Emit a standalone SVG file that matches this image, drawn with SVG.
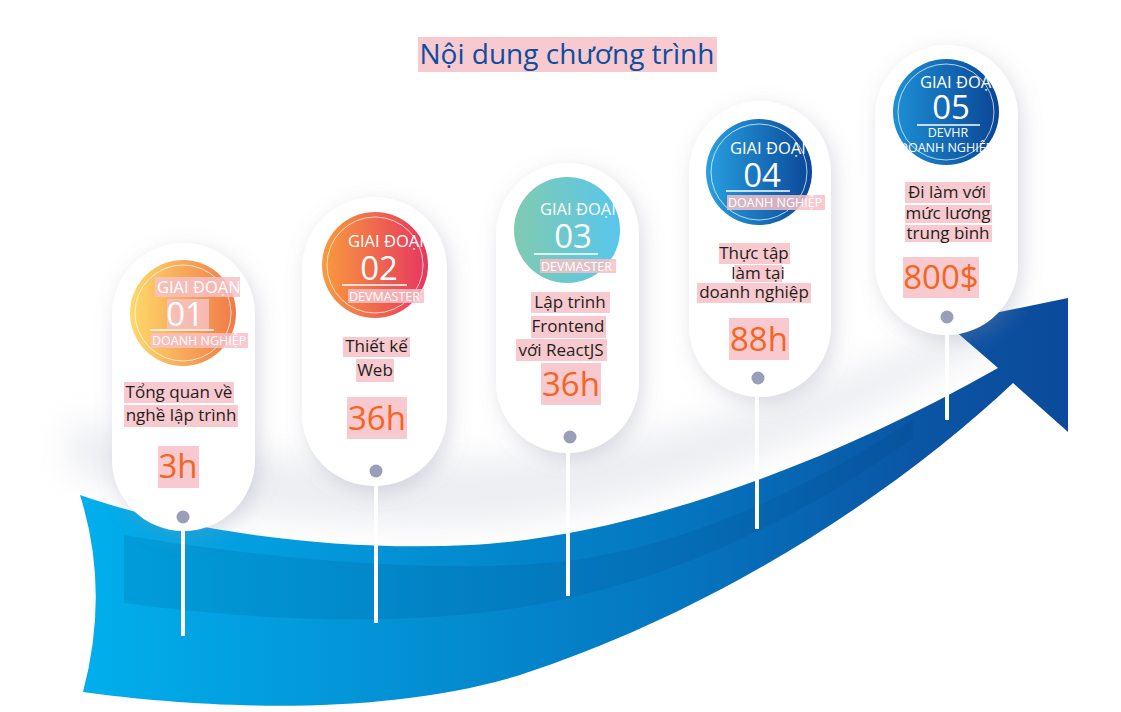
<svg xmlns="http://www.w3.org/2000/svg" width="1121" height="712" viewBox="0 0 1121 712">
<defs>
<style>
text{font-family:"Open Sans","Noto Sans","DejaVu Sans",sans-serif}
.pill{fill:#fff;filter:url(#sh)}
.hl{fill:#f7bfc5;fill-opacity:.85}
.body{font-size:17px;fill:#231f20;text-anchor:middle}
.hrs{font-size:33px;fill:#f26522;text-anchor:middle}
.giai{font-size:16.5px;fill:#fff}
.num{font-size:33px;fill:#fff;text-anchor:middle}
.sub{font-size:12.5px;fill:#fff}
.ring{fill:none;stroke:#fff;stroke-opacity:.7;stroke-width:1}
.uline{stroke:#fff;stroke-width:1.3}
.dot{fill:#9a9fb9}
.conn{stroke:#fff;stroke-width:4;fill:none}
</style>
<filter id="sh" x="-40%" y="-20%" width="180%" height="140%">
<feDropShadow dx="4" dy="6" stdDeviation="10" flood-color="#8a90a8" flood-opacity="0.3"/>
</filter>
<filter id="blur" x="-20%" y="-50%" width="140%" height="200%"><feGaussianBlur stdDeviation="16"/></filter>
<linearGradient id="band" x1="80" y1="0" x2="1068" y2="0" gradientUnits="userSpaceOnUse">
<stop offset="0" stop-color="#01afec"/>
<stop offset="0.3" stop-color="#0393d6"/>
<stop offset="0.62" stop-color="#0574be"/>
<stop offset="0.85" stop-color="#0a55a4"/>
<stop offset="1" stop-color="#0c4a9b"/>
</linearGradient>
<linearGradient id="g1" x1="0" y1="0" x2="1" y2="0"><stop offset="0" stop-color="#fed96a"/><stop offset="1" stop-color="#f07a48"/></linearGradient>
<linearGradient id="g2" x1="0" y1="0" x2="1" y2="0"><stop offset="0" stop-color="#f89b3d"/><stop offset="1" stop-color="#e6375f"/></linearGradient>
<linearGradient id="g3" x1="0" y1="0" x2="1" y2="0"><stop offset="0" stop-color="#80cbb0"/><stop offset="1" stop-color="#58c6ec"/></linearGradient>
<linearGradient id="g4" x1="0" y1="0" x2="1" y2="0"><stop offset="0" stop-color="#28a0e0"/><stop offset="1" stop-color="#0a4798"/></linearGradient>
<linearGradient id="g5" x1="0" y1="0" x2="1" y2="0"><stop offset="0" stop-color="#1d90d6"/><stop offset="1" stop-color="#0a4595"/></linearGradient>
<clipPath id="c1"><rect x="140" y="250" width="110" height="110"/></clipPath>
<clipPath id="c2"><rect x="322" y="225" width="103" height="30"/></clipPath>
<clipPath id="c3"><rect x="513" y="192" width="105" height="30"/></clipPath>
<clipPath id="c4"><rect x="706" y="132" width="102" height="30"/></clipPath>
<clipPath id="c5"><rect x="893" y="66" width="100" height="30"/></clipPath>
<clipPath id="c5b"><rect x="904" y="139" width="87" height="18"/></clipPath>
</defs>
<rect width="1121" height="712" fill="#fff"/>

<g id="title">
<rect class="hl" x="418" y="37" width="299" height="35"/>
<text x="567" y="64" font-size="28" fill="#0b4ea2" text-anchor="middle">Nội dung chương trình</text>
</g>

<g id="arrow">
<path d="M70,470 C200,515 330,530 470,525 S800,455 1000,340 L1010,300 C800,410 600,455 470,460 C300,465 180,450 70,420 Z" fill="#c4c8d4" opacity="0.3" filter="url(#blur)"/>
<path d="M80,495 C180,530 330,552 470,545 S800,480 998,368 L946,323 L1068,298 L1068,432 L1013,383 C900,490 720,610 520,675 C380,718 200,708 83,692 Q110,590 80,495 Z" fill="url(#band)"/>
<path d="M124,535 C250,556 420,575 560,562 C700,545 820,480 913,420 L913,438 C820,505 700,570 560,600 C420,630 250,620 124,603 Z" fill="#003a70" fill-opacity="0.12"/>
</g>

<g id="stage-1">
<rect class="pill" x="112" y="243" width="143" height="288" rx="71.5"/>
<circle cx="183" cy="313" r="53" fill="url(#g1)"/>
<circle class="ring" cx="183" cy="313" r="48"/>
<g clip-path="url(#c1)">
<rect class="hl" x="155" y="277" width="85" height="20"/>
<rect class="hl" x="167" y="299" width="42" height="30"/>
<rect class="hl" x="151" y="333" width="97" height="15"/>
<text class="giai" x="157" y="293" font-size="16">GIAI ĐOẠN</text>
<text class="num" x="185" y="326">01</text>
<line class="uline" x1="150" y1="330" x2="214" y2="330"/>
<text class="sub" x="152" y="345">DOANH NGHIỆP</text>
</g>
<rect class="hl" x="124" y="382" width="110" height="21"/>
<rect class="hl" x="124" y="405" width="114" height="22"/>
<text class="body" x="179" y="398">Tổng quan về</text>
<text class="body" x="181" y="421">nghề lập trình</text>
<rect class="hl" x="158" y="446" width="41" height="42"/>
<text class="hrs" x="178" y="478">3h</text>
<circle class="dot" cx="183" cy="517" r="6.5"/>
</g>

<g id="stage-2">
<rect class="pill" x="302" y="197" width="145" height="289" rx="72"/>
<circle cx="375" cy="265" r="53" fill="url(#g2)"/>
<circle class="ring" cx="375" cy="265" r="48"/>
<text class="giai" x="348" y="247" clip-path="url(#c2)">GIAI ĐOẠN</text>
<text class="num" x="379" y="280">02</text>
<line class="uline" x1="342" y1="285" x2="407" y2="285"/>
<rect class="hl" x="348" y="289" width="76" height="14"/>
<text class="sub" x="349" y="301" font-size="13">DEVMASTER</text>
<rect class="hl" x="343" y="337" width="67" height="20"/>
<rect class="hl" x="356" y="359" width="38" height="23"/>
<text class="body" x="376.5" y="352">Thiết kế</text>
<text class="body" x="375" y="376">Web</text>
<rect class="hl" x="347" y="397" width="60" height="42"/>
<text class="hrs" x="377" y="430">36h</text>
<circle class="dot" cx="376" cy="471" r="6.5"/>
</g>

<g id="stage-3">
<rect class="pill" x="496" y="163" width="143" height="290" rx="71.5"/>
<circle cx="567" cy="230" r="53" fill="url(#g3)"/>
<text class="giai" x="540" y="215" clip-path="url(#c3)">GIAI ĐOẠN</text>
<text class="num" x="573" y="248">03</text>
<line class="uline" x1="534" y1="254" x2="598" y2="254"/>
<rect class="hl" x="540" y="259" width="76" height="14"/>
<text class="sub" x="541" y="271" font-size="13">DEVMASTER</text>
<rect class="hl" x="531" y="292" width="79" height="21"/>
<rect class="hl" x="531" y="316" width="75" height="22"/>
<rect class="hl" x="516" y="339" width="91" height="22"/>
<text class="body" x="570" y="308">Lập trình</text>
<text class="body" x="568" y="332">Frontend</text>
<text class="body" x="561" y="356">với ReactJS</text>
<rect class="hl" x="541" y="363" width="60" height="42"/>
<text class="hrs" x="571" y="396">36h</text>
<circle class="dot" cx="570" cy="437" r="6.5"/>
</g>

<g id="stage-4">
<rect class="pill" x="689" y="101" width="142" height="296" rx="71"/>
<circle cx="759" cy="172" r="53" fill="url(#g4)"/>
<circle class="ring" cx="759" cy="172" r="48"/>
<text class="giai" x="730" y="154" clip-path="url(#c4)">GIAI ĐOẠN</text>
<text class="num" x="762" y="187">04</text>
<line class="uline" x1="726" y1="191" x2="790" y2="191"/>
<rect class="hl" x="727" y="195" width="98" height="15"/>
<text class="sub" x="728" y="207">DOANH NGHIỆP</text>
<rect class="hl" x="719" y="243" width="71" height="21"/>
<rect class="hl" x="735" y="265" width="47" height="17"/>
<rect class="hl" x="697" y="283" width="114" height="20"/>
<text class="body" x="754" y="259">Thực tập</text>
<text class="body" x="758" y="279">làm tại</text>
<text class="body" x="754" y="298">doanh nghiệp</text>
<rect class="hl" x="729" y="318" width="60" height="42"/>
<text class="hrs" x="759" y="351">88h</text>
<circle class="dot" cx="758" cy="378" r="6.5"/>
</g>

<g id="stage-5">
<rect class="pill" x="875" y="45" width="143" height="290" rx="71.5"/>
<circle cx="946" cy="112" r="53" fill="url(#g5)"/>
<circle class="ring" cx="946" cy="112" r="48"/>
<text class="giai" x="920" y="88" clip-path="url(#c5)">GIAI ĐOẠN</text>
<text class="num" x="951" y="119">05</text>
<line class="uline" x1="917" y1="125" x2="980" y2="125"/>
<text class="sub" x="948" y="137" font-size="11.5" text-anchor="middle">DEVHR</text>
<text class="sub" x="946" y="152" text-anchor="middle" clip-path="url(#c5b)">DOANH NGHIỆP</text>
<rect class="hl" x="905" y="182" width="85" height="21"/>
<rect class="hl" x="905" y="205" width="87" height="18"/>
<rect class="hl" x="905" y="225" width="87" height="17"/>
<text class="body" x="947" y="198">Đi làm với</text>
<text class="body" x="948" y="219">mức lương</text>
<text class="body" x="948" y="239">trung bình</text>
<rect class="hl" x="903" y="257" width="76" height="41"/>
<text class="hrs" x="941" y="289">800$</text>
<circle class="dot" cx="947" cy="317" r="6.5"/>
</g>

<g id="connectors">
<line class="conn" x1="183" y1="524" x2="183" y2="636"/>
<line class="conn" x1="376" y1="478" x2="376" y2="623"/>
<line class="conn" x1="568" y1="444" x2="568" y2="596"/>
<line class="conn" x1="757" y1="385" x2="757" y2="529"/>
<line class="conn" x1="947" y1="324" x2="947" y2="420"/>
</g>
</svg>
